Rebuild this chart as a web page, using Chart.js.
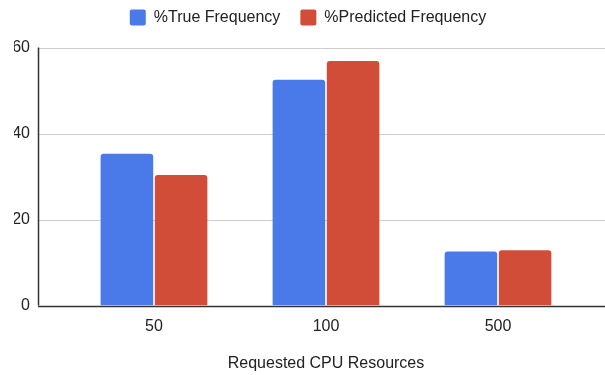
<!DOCTYPE html>
<html>
<head>
<meta charset="utf-8">
<script src="https://cdn.jsdelivr.net/npm/chart.js@4"></script>
<style>
    html, body { margin: 0; padding: 0; background: #fff; }
    #wrap { width: 605px; height: 375px; position: relative; }
</style>
</head>
<body>
<div id="wrap"><canvas id="cpu-chart"></canvas></div>
<script>
const categories = ['50', '100', '500'];
const trueFrequency = [35.3, 52.5, 12.6];
const predictedFrequency = [30.4, 56.9, 12.9];
const yTicks = [0, 20, 40, 60];

// gridlines in the reference run past the bars on both sides, so draw them ourselves
const fullGrid = {
    id: 'fullGrid',
    beforeDatasetsDraw(chart) {
        const ctx = chart.ctx;
        const y = chart.scales.y;
        const left = 38;
        const right = chart.width;
        ctx.save();
        yTicks.forEach(v => {
            const py = Math.round(y.getPixelForValue(v)) + 0.5;
            ctx.strokeStyle = v === 0 ? '#333333' : '#cccccc';
            ctx.lineWidth = v === 0 ? 1.5 : 1;
            ctx.beginPath();
            ctx.moveTo(left, py);
            ctx.lineTo(right, py);
            ctx.stroke();
        });
        ctx.strokeStyle = '#333333';
        ctx.lineWidth = 1.5;
        ctx.beginPath();
        ctx.moveTo(left + 0.5, y.getPixelForValue(60));
        ctx.lineTo(left + 0.5, y.getPixelForValue(0));
        ctx.stroke();
        ctx.restore();
    }
};

// nudge the legend to where the reference has it
const legendTweak = {
    id: 'legendTweak',
    beforeInit(chart) {
        const legend = chart.legend;
        const fit = legend.fit;
        legend.fit = function () {
            fit.apply(this, arguments);
            this.height = 44;
        };
        const draw = legend.draw;
        legend.draw = function () {
            const c = this.ctx;
            c.save();
            c.translate(9, -14);
            draw.apply(this, arguments);
            c.restore();
        };
    }
};

const font16 = { family: 'Liberation Sans, Arial', size: 16 };

const ctx = document.getElementById('cpu-chart').getContext('2d');
new Chart(ctx, {
    type: 'bar',
    data: {
        labels: categories,
        datasets: [{
            label: '%True Frequency',
            data: trueFrequency,
            backgroundColor: '#4a7ae9',
            borderRadius: { topLeft: 3, topRight: 3 },
            borderSkipped: 'bottom'
        }, {
            label: '%Predicted Frequency',
            data: predictedFrequency,
            backgroundColor: '#d24d38',
            borderRadius: { topLeft: 3, topRight: 3 },
            borderSkipped: 'bottom'
        }]
    },
    options: {
        responsive: true,
        maintainAspectRatio: false,
        animation: false,
        categoryPercentage: 0.63,
        barPercentage: 0.97,
        layout: {
            padding: { left: 14, right: 21, top: 0, bottom: 2 }
        },
        plugins: {
            legend: {
                position: 'top',
                labels: {
                    color: '#222',
                    font: font16,
                    boxWidth: 16,
                    boxHeight: 16,
                    useBorderRadius: true,
                    borderRadius: 2,
                    padding: 20
                }
            },
            tooltip: { enabled: false }
        },
        scales: {
            x: {
                grid: { display: false },
                border: { display: false },
                ticks: {
                    color: '#222',
                    font: font16,
                    padding: 3
                },
                title: {
                    display: true,
                    text: 'Requested CPU Resources',
                    color: '#222',
                    font: font16,
                    padding: { top: 15, bottom: 0 }
                }
            },
            y: {
                min: 0,
                max: 60,
                grid: { display: false, drawTicks: false },
                border: { display: false },
                afterBuildTicks(scale) {
                    scale.ticks = yTicks.map(v => ({ value: v }));
                },
                afterFit(scale) {
                    scale.width = 54;
                },
                ticks: {
                    color: '#222',
                    font: font16,
                    padding: 38
                }
            }
        }
    },
    plugins: [fullGrid, legendTweak]
});
</script>
</body>
</html>
